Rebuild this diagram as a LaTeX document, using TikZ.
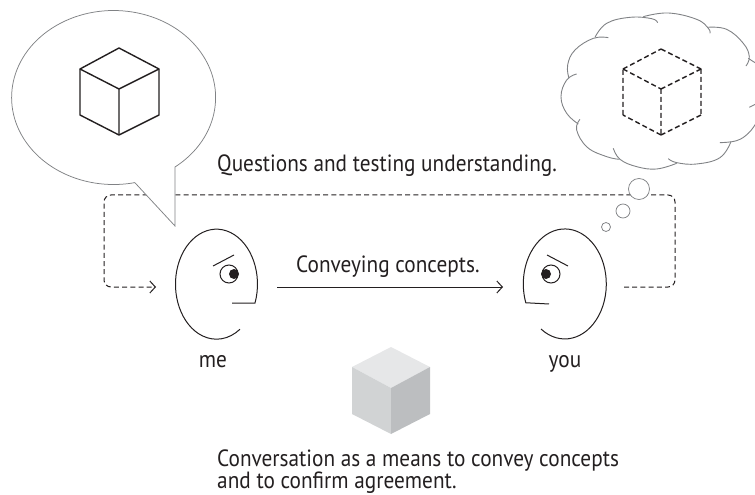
\documentclass[tikz,border=0pt]{standalone}
\usepackage{fontspec}
\setmainfont[FakeStretch=0.905]{PT Sans}
\usetikzlibrary{arrows.meta}
\definecolor{bubble}{HTML}{808285}
\definecolor{ink}{HTML}{231F20}
\definecolor{cubetop}{HTML}{E6E7E8}
\definecolor{cubeleft}{HTML}{D1D3D4}
\definecolor{cuberight}{HTML}{BCBEC0}
\tikzset{
  bubbleline/.style={draw=bubble,line width=0.75bp,fill=white},
  cloudline/.style={draw=bubble,line width=0.9bp},
  faceline/.style={draw=ink,line width=1bp},
  cubeline/.style={draw=ink,line width=1.4bp,line join=round},
  cubedash/.style={draw=ink,line width=1.4bp,dash pattern=on 5bp off 3bp},
  flow/.style={draw=ink,line width=1bp,dash pattern=on 5bp off 3.2bp},
  openhead/.style={-{Straight Barb[length=5.5bp,width=12bp,line width=1bp]}},
  txt/.style={text=ink,font=\fontsize{23.5bp}{24bp}\selectfont,inner sep=0pt},
}
\begin{document}
\begin{tikzpicture}[x=1bp,y=-1bp]
\useasboundingbox (0,0) rectangle (755,495);
\clip (0,0) rectangle (755,495);
% named anchors
\coordinate (meback) at (172,287);
\coordinate (meright) at (277,287);
\coordinate (youleft) at (503,287);
\coordinate (youback) at (624,287);
\coordinate (TL) at (104,195);
\coordinate (TR) at (675,195);
% flows
\draw[flow,openhead,rounded corners=7bp] (youback) -| (TR) -- (TL) |- (156,287);
\draw[draw=ink,line width=1bp,openhead] (meright) -- (youleft);
% speech bubble
\draw[bubbleline,line join=miter] (175,167) arc[start angle=-53,end angle=282,x radius=102bp,y radius=87bp] -- (175,226) -- cycle;
% thought bubbles
\node[circle,bubbleline,minimum size=21bp,inner sep=0pt] (t1) at (639,189) {};
\node[circle,bubbleline,minimum size=14bp,inner sep=0pt] (t2) at (623,211) {};
\node[circle,bubbleline,minimum size=9bp,inner sep=0pt] (t3) at (606,227) {};
% solid cube
\draw[cubeline] (119,48) -- (159,69) -- (159,115) -- (119,135) -- (80,115) -- (80,69) -- cycle;
\draw[cubeline] (80,69) -- (119,89) -- (159,69) (119,89) -- (119,135);
% dashed cube
\draw[cubedash] (661,49) -- (701,69) (701,69) -- (701,115) (701,115) -- (661,135) (661,135) -- (623,115) (623,115) -- (623,69) (623,69) -- (661,49);
\draw[cubedash] (623,69) -- (661,89) (701,69) -- (661,89) (661,89) -- (661,135);
% cloud
\begin{scope}[shift={(500,0)},x=0.3333bp,y=-0.3333bp]
\draw[cloudline] plot[smooth,tension=0.7] coordinates {(430,50) (505,39) (590,58) (625,85) (630,100)};
\draw[cloudline] plot[smooth,tension=0.7] coordinates {(473,68) (455,56) (390,52) (320,70) (285,112)};
\draw[cloudline] plot[smooth,tension=0.7] coordinates {(325,113) (280,115) (225,150) (203,195) (207,235)};
\draw[cloudline] plot[smooth,tension=0.7] coordinates {(230,222) (200,240) (183,290) (200,340) (235,372)};
\draw[cloudline] plot[smooth,tension=0.7] coordinates {(240,358) (230,390) (262,442) (320,470) (358,478)};
\draw[cloudline] plot[smooth,tension=0.7] coordinates {(340,445) (360,478) (410,500) (470,507) (530,490)};
\draw[cloudline] plot[smooth,tension=0.7] coordinates {(505,476) (530,488) (590,492) (660,473) (693,425)};
\draw[cloudline] plot[smooth,tension=0.7] coordinates {(660,428) (710,422) (745,400) (768,370)};
\draw[cloudline] plot[smooth,tension=0.7] coordinates {(622,82) (680,88) (730,130) (748,170) (738,198)};
\draw[cloudline] plot[smooth,tension=0.7] coordinates {(745,175) (768,190)};
\draw[cloudline] plot[smooth,tension=0.7] coordinates {(748,322) (768,312)};
\end{scope}
% me face
\draw[faceline] (232,303) -- (255,303) arc[start angle=-20,end angle=305,x radius=41bp,y radius=55bp];
\draw[faceline] (213,266) -- (234,255);
\draw[faceline] (229,274) circle[radius=9bp];
\fill[ink] (234,274) circle[radius=5bp];
% you face
\draw[faceline] (541,329) arc[start angle=235,end angle=560,x radius=41.5bp,y radius=55bp] -- (549,304);
\draw[faceline] (547,255) -- (568,266);
\draw[faceline] (551,274) circle[radius=9bp];
\fill[ink] (546,274) circle[radius=5bp];
% grey cube
\fill[cubetop] (391,347) -- (430,367) -- (391,388) -- (352,367) -- cycle;
\fill[cubeleft] (352,367) -- (391,388) -- (391,434) -- (352,414) -- cycle;
\fill[cuberight] (430,367) -- (391,388) -- (391,434) -- (430,414) -- cycle;
% labels
\node[txt,anchor=base west] (q) at (217,172) {Questions and testing understanding.};
\node[txt,anchor=base west] (c) at (296,273) {Conveying concepts.};
\node[txt,anchor=base] (me) at (213,367) {me};
\node[txt,anchor=base] (you) at (565,367) {you};
\node[txt,anchor=base west] (a) at (217,466) {Conversation as a means to convey concepts};
\node[txt,anchor=base west] (b) at (217,488) {and to confirm agreement.};
\end{tikzpicture}
\end{document}
